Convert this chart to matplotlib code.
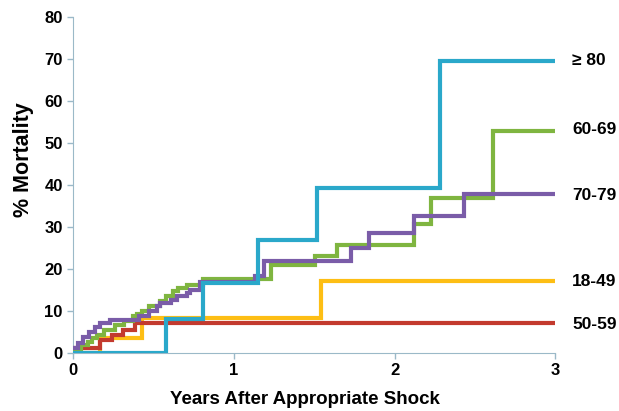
import matplotlib
matplotlib.use('Agg')
import matplotlib.pyplot as plt

plt.rcParams['font.family'] = ['Liberation Sans', 'DejaVu Sans']

# step times (years) and cumulative mortality (%) for each age group
t_18_49 = [0, 0.17, 0.43, 1.54]
m_18_49 = [0, 3.5, 8.4, 17.1]

t_50_59 = [0, 0.17, 0.24, 0.31, 0.385]
m_50_59 = [1.2, 3.0, 4.3, 5.5, 7.2]

t_60_69 = [0, 0.05, 0.09, 0.12, 0.15, 0.19, 0.26, 0.32, 0.375, 0.40, 0.43, 0.47,
           0.54, 0.58, 0.62, 0.655, 0.71, 0.81, 1.23, 1.506, 1.645, 2.12, 2.23, 2.61]
m_60_69 = [1.0, 1.8, 2.7, 3.5, 4.3, 5.5, 6.7, 7.7, 8.7, 9.4, 10.0, 11.1,
           12.3, 13.5, 14.7, 15.5, 16.3, 17.6, 21.0, 23.2, 25.7, 30.6, 37.0, 52.9]

t_70_79 = [0, 0.03, 0.06, 0.10, 0.135, 0.165, 0.23, 0.41, 0.47, 0.52, 0.54, 0.61,
           0.645, 0.71, 0.73, 0.79, 1.13, 1.19, 1.73, 1.84, 2.12, 2.43]
m_70_79 = [1.2, 2.5, 3.8, 5.0, 6.2, 7.2, 7.9, 8.7, 9.9, 11.1, 11.9, 12.7,
           13.5, 14.3, 15.1, 17.0, 18.3, 21.9, 25.1, 28.5, 32.7, 37.9]

t_80 = [0, 0.58, 0.81, 1.153, 1.516, 2.284]
m_80 = [0, 8.1, 16.6, 27.0, 39.2, 69.5]

groups = ["18-49", "50-59", "60-69", "70-79", "\u2265 80"]
times = [t_18_49, t_50_59, t_60_69, t_70_79, t_80]
values = [m_18_49, m_50_59, m_60_69, m_70_79, m_80]
colors = ["#FDBE14", "#C33A2E", "#7FB540", "#7A5CA8", "#2AA8CA"]
label_y = [17.1, 6.9, 53.3, 37.6, 69.5]

fig = plt.figure(figsize=(6.19, 4.11), dpi=100)
ax = fig.add_axes([0.118, 0.141, 0.779, 0.818])

for i in range(len(groups)):
    t = times[i] + [3.0]
    v = values[i] + [values[i][-1]]
    ax.step(t, v, where='post', color=colors[i], lw=3.0, zorder=2 + i,
            solid_joinstyle='miter')
    ax.text(3.105, label_y[i], groups[i], fontsize=12.5, fontweight='bold',
            va='center', ha='left', clip_on=False)

ax.set_xlim(0, 3)
ax.set_ylim(0, 80)
ax.set_xticks([0, 1, 2, 3])
ax.set_yticks(range(0, 81, 10))
ax.tick_params(labelsize=12, colors='#9BB9C8', labelcolor='black', length=4, width=1)
for lab in ax.get_xticklabels() + ax.get_yticklabels():
    lab.set_fontweight('bold')
for s in ['top', 'right']:
    ax.spines[s].set_visible(False)
for s in ['left', 'bottom']:
    ax.spines[s].set_color('#9BB9C8')
ax.set_xlabel("Years After Appropriate Shock", fontsize=13.5, fontweight='bold')
ax.set_ylabel("% Mortality", fontsize=15.5, fontweight='bold')
ax.xaxis.set_label_coords(0.48, -0.112)
ax.yaxis.set_label_coords(-0.082, 0.574)

plt.savefig("out.png", dpi=100)
plt.close()
